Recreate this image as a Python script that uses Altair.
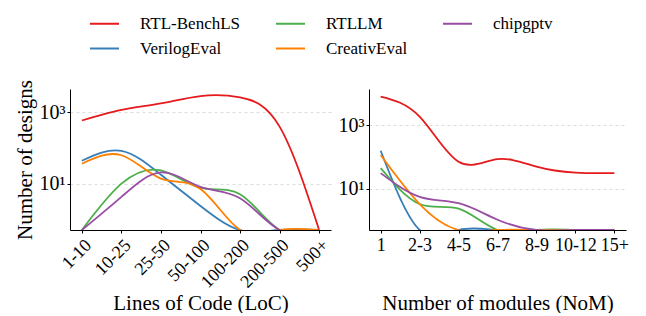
import altair as alt
import pandas as pd

FONT = "Liberation Serif, Times New Roman, serif"

series = ["RTL-BenchLS", "VerilogEval", "RTLLM", "CreativEval", "chipgptv"]
series_colors = ["#e41a1c", "#377eb8", "#4daf4a", "#ff7f00", "#984ea3"]

# Lines of Code panel
loc_categories = ["1-10", "10-25", "25-50", "50-100", "100-200", "200-500", "500+"]
loc_rtl_benchls = [590, 1170, 1760, 2800, 2580, 400, 0]
loc_verilogeval = [45, 85, 18, 2, 0, 0, 0]
loc_rtllm = [0, 10, 24, 7.5, 4.8, 0, 0]
loc_creativeval = [37, 64, 14, 7, 0, 0, 0]
loc_chipgptv = [0, 4, 21, 8, 3.6, 0, 0]

# Number of modules panel
nom_categories = ["1", "2-3", "4-5", "6-7", "8-9", "10-12", "15+"]
nom_rtl_benchls = [7900, 1870, 73, 88, 51, 33, 32]
nom_verilogeval = [162, 0, 0, 0, 0, 0, 0]
nom_rtllm = [46, 3, 2, 0, 0, 0, 0]
nom_creativeval = [119, 3, 0, 0, 0, 0, 0]
nom_chipgptv = [32, 5.4, 3.2, 0.6, 0, 0, 0]

loc_values = {"RTL-BenchLS": loc_rtl_benchls, "VerilogEval": loc_verilogeval,
              "RTLLM": loc_rtllm, "CreativEval": loc_creativeval, "chipgptv": loc_chipgptv}
nom_values = {"RTL-BenchLS": nom_rtl_benchls, "VerilogEval": nom_verilogeval,
              "RTLLM": nom_rtllm, "CreativEval": nom_creativeval, "chipgptv": nom_chipgptv}


def make_df(cats, values):
    rows = []
    for name in series:
        for c, v in zip(cats, values[name]):
            rows.append({"cat": c, "value": v, "series": name})
    return pd.DataFrame(rows)


color = alt.Color(
    "series:N",
    scale=alt.Scale(domain=series, range=series_colors),
    legend=alt.Legend(
        title=None, orient="none", legendX=19, legendY=-81, columns=3, columnPadding=31,
        symbolType="stroke", symbolSize=840, symbolStrokeWidth=2,
        labelFont=FONT, labelFontSize=17, labelColor="black", labelOffset=20,
        rowPadding=1,
    ),
)


def panel(cats, values, dmax, xtitle, ytitle, angle, width):
    df = make_df(cats, values)
    xaxis_kwargs = dict(
        title=xtitle, labelAngle=angle, titleY=79, titleBaseline="alphabetic",
        labelFont=FONT, titleFont=FONT,
        labelFontSize=18, titleFontSize=21, tickSize=3, labelPadding=3,
    )
    if angle != 0:
        xaxis_kwargs.update(labelAlign="right", labelBaseline="top")
    yaxis_kwargs = dict(
        values=[10, 1000],
        labelExpr="datum.value == 10 ? '10\u00b9' : '10\u00b3'",
        grid=True, gridDash=[3, 3], gridColor="#dddddd", gridWidth=1,
        labelFont=FONT, titleFont=FONT,
        labelFontSize=20, tickSize=3, titleFontSize=21,
    )
    yaxis_kwargs["title"] = ytitle if ytitle else None
    return (
        alt.Chart(df)
        .mark_line(interpolate="natural", strokeWidth=1.8, clip=True)
        .encode(
            x=alt.X("cat:N", sort=cats, scale=alt.Scale(type="point", padding=0.3),
                    axis=alt.Axis(**xaxis_kwargs)),
            y=alt.Y("value:Q",
                    scale=alt.Scale(type="symlog", constant=0.55, domain=[0, dmax], nice=False),
                    axis=alt.Axis(**yaxis_kwargs)),
            color=color,
            detail="series:N",
        )
        .properties(width=width, height=141)
    )


left = panel(loc_categories, loc_values, 4400, "Lines of Code (LoC)", "Number of designs", -45, 261)
right = panel(nom_categories, nom_values, 13600, "Number of modules (NoM)", None, 0, 257)

chart = (
    alt.hconcat(left, right, spacing=6)
    .resolve_scale(x="independent", y="independent", color="shared")
    .properties(padding={"left": 6, "top": 0, "right": 5, "bottom": 0})
    .configure(font=FONT)
    .configure_view(stroke=None)
    .configure_axis(
        labelFont=FONT, titleFont=FONT, domainColor="black", tickColor="black",
        labelColor="black", titleColor="black", titleFontWeight="normal",
    )
    .configure_legend(labelFont=FONT)
)

chart.save("out.html", embed_options={"renderer": "svg", "actions": False})
